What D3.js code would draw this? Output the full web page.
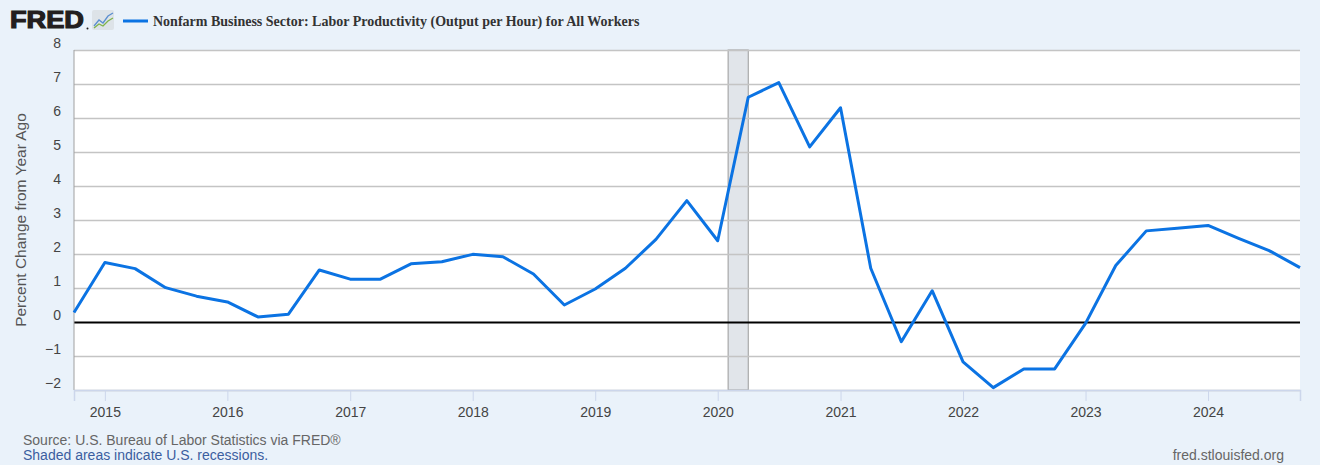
<!DOCTYPE html>
<html>
<head>
<meta charset="utf-8">
<script src="https://cdn.jsdelivr.net/npm/d3@7"></script>
<style>
  body { margin: 0; background: #eaf2fa; }
  svg { display: block; font-family: "Liberation Sans", Arial, sans-serif; }
</style>
</head>
<body>
<div class="chart-container"></div>
<script>
// datos trimestrales (variacion % anual)
const quarters = [
  "2014-10-01",
  "2015-01-01", "2015-04-01", "2015-07-01", "2015-10-01",
  "2016-01-01", "2016-04-01", "2016-07-01", "2016-10-01",
  "2017-01-01", "2017-04-01", "2017-07-01", "2017-10-01",
  "2018-01-01", "2018-04-01", "2018-07-01", "2018-10-01",
  "2019-01-01", "2019-04-01", "2019-07-01", "2019-10-01",
  "2020-01-01", "2020-04-01", "2020-07-01", "2020-10-01",
  "2021-01-01", "2021-04-01", "2021-07-01", "2021-10-01",
  "2022-01-01", "2022-04-01", "2022-07-01", "2022-10-01",
  "2023-01-01", "2023-04-01", "2023-07-01", "2023-10-01",
  "2024-01-01", "2024-04-01", "2024-07-01", "2024-10-01"
]
const productivity = [
  0.28,
  1.75, 1.57, 1.01, 0.76,
  0.59, 0.15, 0.23, 1.53,
  1.26, 1.26, 1.71, 1.77,
  1.99, 1.92, 1.41, 0.50,
  0.97, 1.58, 2.43, 3.57,
  2.39, 6.61, 7.04, 5.15,
  6.30, 1.58, -0.58, 0.92,
  -1.17, -1.93, -1.38, -1.38,
  -0.04, 1.66, 2.68, 2.76,
  2.84, 2.46, 2.10, 1.60
]
const recessions = [["2020-02-01", "2020-04-01"]]
const yTicks = [-2, -1, 0, 1, 2, 3, 4, 5, 6, 7, 8]
const xTicks = ["2015", "2016", "2017", "2018", "2019", "2020", "2021", "2022", "2023", "2024"]

const seriesTitle = "Nonfarm Business Sector: Labor Productivity (Output per Hour) for All Workers"
const yTitle = "Percent Change from Year Ago"

const WIDTH = 1320
const HEIGHT = 465
const margin = { top: 50, bottom: 75, left: 74, right: 20 }
const width = WIDTH - margin.left - margin.right
const height = HEIGHT - margin.top - margin.bottom

const parse = d3.timeParse("%Y-%m-%d")
const data = quarters.map((q, i) => ({ date: parse(q), value: productivity[i] }))

const svg = d3.select(".chart-container")
  .append("svg")
  .attr("width", WIDTH)
  .attr("height", HEIGHT)

svg.append("rect").attr("width", WIDTH).attr("height", HEIGHT).attr("fill", "#eaf2fa")

const xScale = d3.scaleTime()
  .domain([data[0].date, data[data.length - 1].date])
  .range([0, width])
const yScale = d3.scaleLinear()
  .domain([-2, 8])
  .range([height, 0])

const plot = svg.append("g").attr("transform", `translate(${margin.left}, ${margin.top})`)

plot.append("rect").attr("width", width).attr("height", height).attr("fill", "white")

// recesiones
plot.selectAll(".recession")
  .data(recessions)
  .join("rect")
  .attr("class", "recession")
  .attr("x", d => xScale(parse(d[0])))
  .attr("width", d => xScale(parse(d[1])) - xScale(parse(d[0])))
  .attr("y", 0)
  .attr("height", height)
  .attr("fill", "#e1e5ea")
  .attr("stroke", "#9a9a9a")
  .attr("stroke-width", 1)

// grilla y eje Y
const yAxis = d3.axisLeft(yScale)
  .tickValues(yTicks)
  .tickSize(-width)
  .tickFormat(d3.format("d"))
const yAxisG = plot.append("g").attr("class", "y-axis").call(yAxis)
yAxisG.select(".domain").remove()
yAxisG.selectAll(".tick line")
  .attr("stroke", d => d === 0 ? "#000" : "#c4c4c4")
  .attr("stroke-width", d => d === 0 ? 2 : 1.5)
yAxisG.selectAll(".tick text")
  .attr("x", -13)
  .attr("dy", "-0.15em")
  .attr("fill", "#444")
  .attr("font-size", 14)
yAxisG.selectAll(".tick").filter(d => d === 0).raise()

// borde izquierdo
plot.append("line")
  .attr("x1", 0).attr("x2", 0)
  .attr("y1", 0).attr("y2", height)
  .attr("stroke", "#a0a0a0")
  .attr("stroke-width", 1)

// eje X
const xAxis = d3.axisBottom(xScale)
  .tickValues(xTicks.map(y => parse(`${y}-01-01`)))
  .tickFormat(d3.timeFormat("%Y"))
  .tickSize(11)
  .tickPadding(6)
const xAxisG = plot.append("g")
  .attr("class", "x-axis")
  .attr("transform", `translate(0, ${height})`)
  .call(xAxis)
xAxisG.select(".domain").attr("stroke", "#ccd6eb").attr("stroke-width", 1.5)
xAxisG.selectAll(".tick line").attr("stroke", "#ccd6eb")
xAxisG.selectAll(".tick text").attr("fill", "#444").attr("font-size", 14)

// linea
const lineGenerator = d3.line()
  .x(d => xScale(d.date))
  .y(d => yScale(d.value))
  .curve(d3.curveLinear)

plot.append("path")
  .datum(data)
  .attr("class", "line")
  .attr("d", lineGenerator)
  .attr("fill", "none")
  .attr("stroke", "#0b73e3")
  .attr("stroke-width", 3)
  .attr("stroke-linejoin", "round")

// titulo eje Y
svg.append("text")
  .attr("transform", `translate(26, ${margin.top + 170}) rotate(-90)`)
  .style("text-anchor", "middle")
  .attr("fill", "#555")
  .attr("font-size", 15.5)
  .text(yTitle)

// logo FRED
const logo = svg.append("g")
logo.append("text")
  .attr("x", 10).attr("y", 28)
  .attr("font-size", 24)
  .attr("font-weight", "bold")
  .attr("fill", "#231f20")
  .attr("stroke", "#231f20")
  .attr("stroke-width", 1.2)
  .attr("textLength", 74)
  .attr("lengthAdjust", "spacingAndGlyphs")
  .text("FRED")
logo.append("circle").attr("cx", 87.5).attr("cy", 28.5).attr("r", 1).attr("fill", "#231f20")
logo.append("rect")
  .attr("x", 92).attr("y", 10).attr("width", 22).attr("height", 20).attr("rx", 2)
  .attr("fill", "#dde3e8")
logo.append("polyline")
  .attr("points", "94,26 99,20 103,23 108,16 113,13")
  .attr("fill", "none").attr("stroke", "#5b8fd0").attr("stroke-width", 1.3)
logo.append("polyline")
  .attr("points", "94,28 99,24 103,26 108,21 113,18")
  .attr("fill", "none").attr("stroke", "#7fb34a").attr("stroke-width", 1.3)

// leyenda
svg.append("line")
  .attr("x1", 123).attr("x2", 148)
  .attr("y1", 21).attr("y2", 21)
  .attr("stroke", "#0b73e3")
  .attr("stroke-width", 3)
svg.append("text")
  .attr("x", 153).attr("y", 25.5)
  .attr("font-family", "'Liberation Serif', 'Times New Roman', serif")
  .attr("font-weight", "bold")
  .attr("font-size", 14)
  .attr("fill", "#333")
  .text(seriesTitle)

// notas
svg.append("text")
  .attr("x", 23).attr("y", 445)
  .attr("font-size", 14)
  .attr("fill", "#666")
  .text("Source: U.S. Bureau of Labor Statistics via FRED®")
svg.append("text")
  .attr("x", 23).attr("y", 460)
  .attr("font-size", 14)
  .attr("fill", "#3b5ea0")
  .text("Shaded areas indicate U.S. recessions.")
svg.append("text")
  .attr("x", 1284).attr("y", 460)
  .style("text-anchor", "end")
  .attr("font-size", 14)
  .attr("fill", "#666")
  .text("fred.stlouisfed.org")
</script>
</body>
</html>
